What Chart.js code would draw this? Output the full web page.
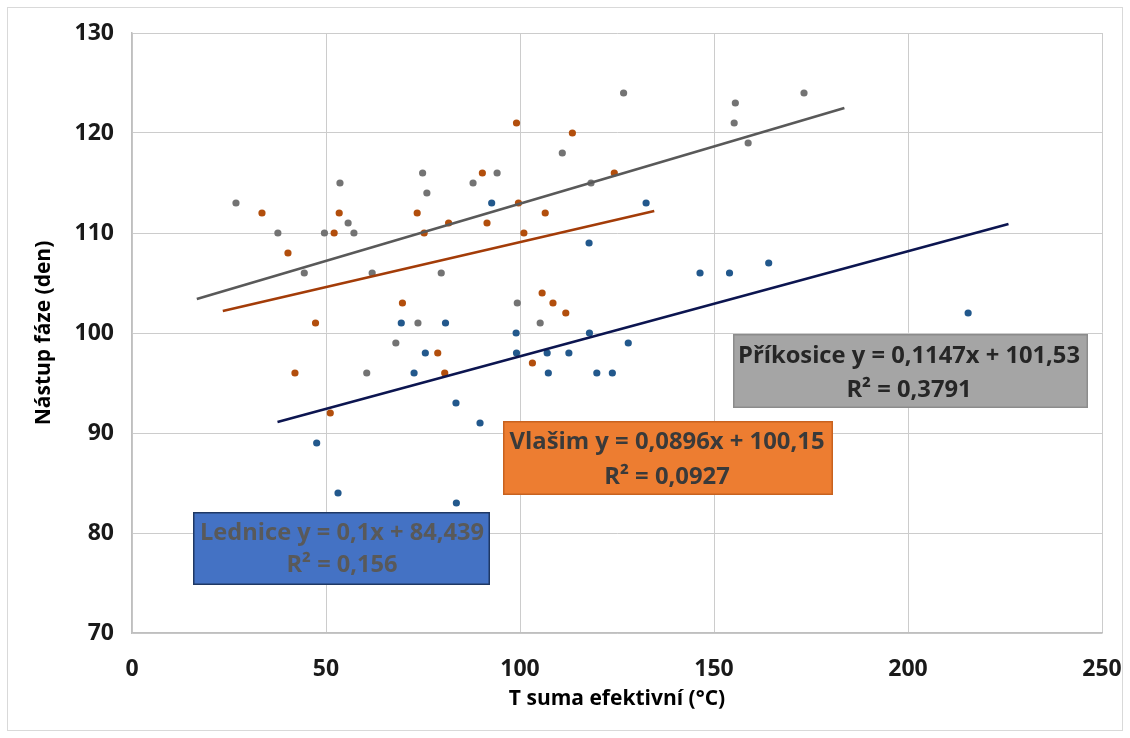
<!DOCTYPE html>
<html>
<head>
<meta charset="utf-8">
<script src="https://cdn.jsdelivr.net/npm/chart.js@4.4.1/dist/chart.umd.min.js"></script>
<style>
  body { margin: 0; background: #fff; }
  #wrap { width: 1130px; height: 738px; }
</style>
</head>
<body>
<div id="wrap"><canvas id="myChart" width="1130" height="738"></canvas></div>
<script>
// points, [x, y]
let prikosice = [[26.8,113],[37.6,110],[44.4,106],[49.6,110],[53.6,115],[55.7,111],[57.2,110],[60.5,96],[61.9,106],[68,99],[73.7,101],[74.9,116],[76,114],[79.7,106],[87.9,115],[94.1,116],[99.3,103],[105.2,101],[110.9,118],[118.3,115],[126.7,124],[155.5,123],[155.2,121],[158.8,119],[173.2,124]];
let vlasim = [[33.5,112],[40.2,108],[42,96],[47.3,101],[51.1,92],[52.1,110],[53.4,112],[69.7,103],[73.5,112],[75.3,110],[78.8,98],[80.6,96],[81.6,111],[90.3,116],[91.5,111],[99.1,121],[99.6,113],[101,110],[103.2,97],[105.7,104],[106.5,112],[108.5,103],[111.8,102],[113.5,120],[124.3,116]];
let lednice = [[47.6,89],[53.1,84],[69.4,101],[72.7,96],[75.6,98],[80.8,101],[83.5,93],[83.6,83],[89.7,91],[92.7,113],[99,100],[99.1,98],[107,98],[107.3,96],[112.6,98],[117.8,109],[117.9,100],[119.8,96],[123.8,96],[127.9,99],[132.5,113],[146.4,106],[154,106],[164.1,107],[215.5,102]];

// trend line ends as drawn
let trendPrikosice = [[16.7,103.4],[183.6,122.5]];
let trendVlasim = [[23.4,102.2],[134.6,112.2]];
let trendLednice = [[37.5,91.1],[225.9,110.9]];

let xTicks = [0, 50, 100, 150, 200, 250];
let yTicks = [70, 80, 90, 100, 110, 120, 130];

let labelPrikosice = ['Příkosice y = 0,1147x + 101,53', 'R² = 0,3791'];
let labelVlasim = ['Vlašim y = 0,0896x + 100,15', 'R² = 0,0927'];
let labelLednice = ['Lednice y = 0,1x + 84,439', 'R² = 0,156'];

function toPts(arr){
  return arr.map(p => ({x: p[0], y: p[1]}));
}

function pointSet(label, arr, color){
  return {
    type: 'scatter',
    label: label,
    data: toPts(arr),
    backgroundColor: color,
    borderColor: color,
    pointRadius: 3.6,
    pointBorderWidth: 0,
    order: 2
  };
}

function trendSet(label, arr, color){
  return {
    type: 'line',
    label: label,
    data: toPts(arr),
    borderColor: color,
    borderWidth: 2.6,
    pointRadius: 0,
    showLine: true,
    fill: false,
    order: 1
  };
}

// boxes with the equations
function drawBox(ctx, b){
  ctx.save();
  ctx.fillStyle = b.fill;
  ctx.fillRect(b.x, b.y, b.w, b.h);
  ctx.strokeStyle = b.stroke;
  ctx.lineWidth = 1.5;
  ctx.strokeRect(b.x + 0.75, b.y + 0.75, b.w - 1.5, b.h - 1.5);
  ctx.font = 'bold 24px "Open Sans"';
  ctx.fillStyle = b.color;
  ctx.textAlign = 'center';
  ctx.textBaseline = 'middle';
  let sx = b.textW / ctx.measureText(b.lines[0]).width;
  for (let i = 0; i < b.lines.length; i++){
    ctx.save();
    ctx.translate(b.cx, b.cy[i]);
    ctx.scale(sx, 1);
    ctx.fillText(b.lines[i], 0, 0);
    ctx.restore();
  }
  ctx.restore();
}

const boxPlugin = {
  id: 'boxes',
  afterDatasetsDraw(chart){
    let ctx = chart.ctx;
    drawBox(ctx, {x: 733, y: 334, w: 355, h: 74, fill: '#a5a5a5', stroke: '#8c8c8c', color: '#262626', lines: labelPrikosice, textW: 342, cx: 909, cy: [356, 390]});
    drawBox(ctx, {x: 503, y: 421, w: 330, h: 74, fill: '#ed7d31', stroke: '#c8621f', color: '#3a3a3a', lines: labelVlasim, textW: 315, cx: 667, cy: [442, 477]});
    drawBox(ctx, {x: 193, y: 512, w: 297, h: 73, fill: '#4472c4', stroke: '#1f3864', color: '#595959', lines: labelLednice, textW: 284, cx: 342, cy: [533, 565]});
  },
  afterDraw(chart){
    let ctx = chart.ctx;
    ctx.save();
    ctx.strokeStyle = '#d9d9d9';
    ctx.lineWidth = 1;
    ctx.strokeRect(7.5, 7.5, 1115, 723);
    ctx.restore();
  }
};

const bg = {
  id: 'bg',
  beforeDraw(chart){
    chart.ctx.save();
    chart.ctx.fillStyle = '#fff';
    chart.ctx.fillRect(0, 0, chart.width, chart.height);
    chart.ctx.restore();
  }
};

let tickFont = {family: '"Open Sans"', size: 23, weight: 'bold'};
let titleFont = {family: '"Open Sans"', size: 21, weight: 'bold'};

var ctx = document.getElementById('myChart').getContext('2d');
var myChart = new Chart(ctx, {
  data: {
    datasets: [
      trendSet('trend Příkosice', trendPrikosice, '#595959'),
      trendSet('trend Vlašim', trendVlasim, '#a33c08'),
      trendSet('trend Lednice', trendLednice, '#0c1550'),
      pointSet('Příkosice', prikosice, '#737373'),
      pointSet('Vlašim', vlasim, '#b24e0c'),
      pointSet('Lednice', lednice, '#22588c')
    ]
  },
  options: {
    responsive: false,
    animation: false,
    layout: { padding: { top: 33, right: 28, left: 0, bottom: 0 } },
    plugins: {
      legend: { display: false },
      tooltip: { enabled: false }
    },
    scales: {
      x: {
        type: 'linear',
        min: 0,
        max: 250,
        afterBuildTicks: s => { s.ticks = xTicks.map(v => ({value: v})); },
        afterFit: s => { s.height = 105; s.paddingLeft = 0; s.paddingRight = 0; },
        ticks: { font: tickFont, color: '#1a1a1a', padding: 23 },
        grid: { color: '#cccccc', lineWidth: 1, drawTicks: false },
        border: { color: '#bfbfbf', width: 1.5 },
        title: { display: true, text: 'T suma efektivní (°C)', font: titleFont, color: '#000', padding: { bottom: 26 } }
      },
      y: {
        type: 'linear',
        min: 70,
        max: 130,
        afterBuildTicks: s => { s.ticks = yTicks.map(v => ({value: v})); },
        afterFit: s => { s.width = 132; s.paddingTop = 0; s.paddingBottom = 0; },
        ticks: { font: tickFont, color: '#1a1a1a', padding: 18 },
        grid: { color: '#cccccc', lineWidth: 1, drawTicks: false },
        border: { color: '#bfbfbf', width: 1.5 },
        title: { display: true, text: 'Nástup fáze (den)', font: titleFont, color: '#000', padding: { top: 31 } }
      }
    }
  },
  plugins: [bg, boxPlugin]
});
</script>
</body>
</html>
